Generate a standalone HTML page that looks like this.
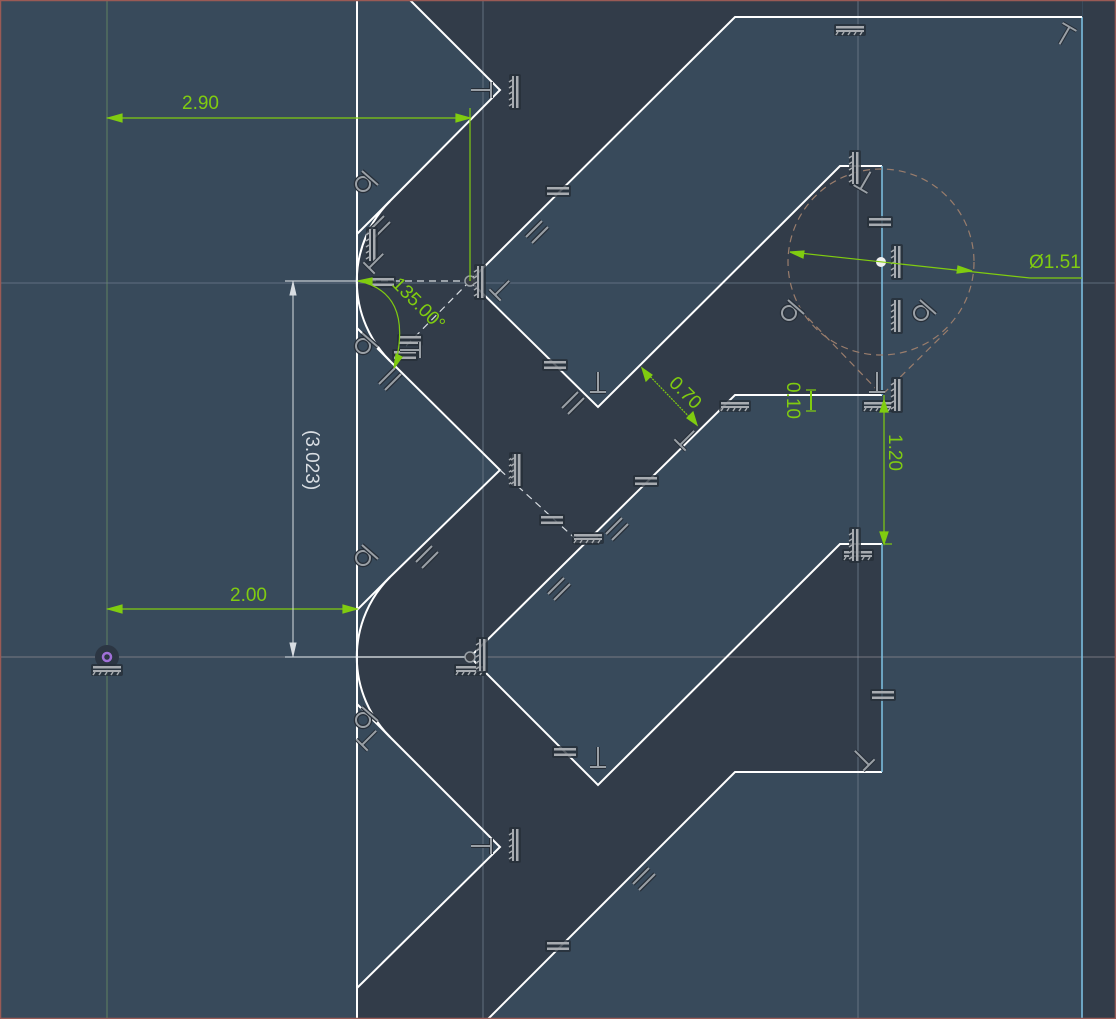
<!DOCTYPE html>
<html><head><meta charset="utf-8"><style>
html,body{margin:0;padding:0;background:#384a5b;}
svg{display:block}
text{font-family:"Liberation Sans",sans-serif}
.g{fill:#80cc10;font-size:19px}
.ic{fill:#8f959c;font-size:26px;stroke:#26303a;stroke-width:0.6}
</style></head><body>
<svg width="1116" height="1019" viewBox="0 0 1116 1019" xmlns="http://www.w3.org/2000/svg">
<defs>
<g id="eq"><rect x="-13" y="-6" width="26" height="12" rx="2" fill="#262e38" opacity="0.8"/><rect x="-11" y="-4" width="22" height="2.5" fill="#a7abb0"/><rect x="-11" y="1.5" width="22" height="2.5" fill="#a7abb0"/></g>
<g id="gv"><rect x="-6" y="-18" width="12" height="36" rx="2" fill="#262e38" opacity="0.8"/><rect x="1" y="-16" width="2.5" height="32" fill="#a7abb0"/><rect x="-3" y="-16" width="2" height="32" fill="#a7abb0"/><path d="M-3,-12 l-3,2 M-3,-6 l-3,2 M-3,0 l-3,2 M-3,6 l-3,2 M-3,12 l-3,2" stroke="#a7abb0" stroke-width="1.5"/></g>
<g id="gh"><rect x="-16" y="-6" width="32" height="12" rx="2" fill="#262e38" opacity="0.8"/><rect x="-14" y="-4" width="28" height="2.5" fill="#a7abb0"/><rect x="-14" y="0" width="28" height="2" fill="#a7abb0"/><path d="M-12,2 l-2,3 M-6,2 l-2,3 M0,2 l-2,3 M6,2 l-2,3 M12,2 l-2,3" stroke="#a7abb0" stroke-width="1.5"/></g>
<g id="pl"><path d="M-12,4 L4,-12 M-6,10 L10,-6" stroke="#262e38" stroke-width="4.5"/><path d="M-12,4 L4,-12 M-6,10 L10,-6" stroke="#9aa0a6" stroke-width="2"/></g>
<g id="pp"><path d="M0,-13 V7 M-8,7 H8" stroke="#262e38" stroke-width="4"/><path d="M0,-13 V7 M-8,7 H8" stroke="#9aa0a6" stroke-width="2"/></g>
<g id="tg"><circle cx="-3" cy="3" r="7" fill="none" stroke="#262e38" stroke-width="4.5"/><circle cx="-3" cy="3" r="7" fill="none" stroke="#9aa0a6" stroke-width="2"/><path d="M-4,-10 L12,4" stroke="#262e38" stroke-width="4.5"/><path d="M-4,-10 L12,4" stroke="#9aa0a6" stroke-width="2"/></g>
</defs>
<rect x="0" y="0" width="1116" height="1019" fill="#384a5b"/>
<path d="M410,0 L1082,0 L1082,17 L735,17 L470,281 L598,407 L840,166 L882,166 L882,395 L735,395 L470,657 L598,785 L840,544 L882,544 L882,772 L735,772 L488,1019 L357,1019 L357,988 L500,847 L390,737 A113,113 0 0 1 390,577 L500,470 L390,361 A113,113 0 0 1 390,201 L500,90 Z" fill="#323c49"/>
<rect x="1083" y="0" width="33" height="1019" fill="#323c49"/>
<line x1="107" y1="0" x2="107" y2="1019" stroke="#8fbf6a" stroke-width="0.8" opacity="0.6"/>
<line x1="483" y1="0" x2="483" y2="1019" stroke="#6f7d8c" stroke-width="0.8"/>
<line x1="858" y1="0" x2="858" y2="1019" stroke="#6f7d8c" stroke-width="0.8"/>
<line x1="0" y1="283" x2="1116" y2="283" stroke="#6f7d8c" stroke-width="0.8"/>
<line x1="0" y1="657" x2="1116" y2="657" stroke="#8f8a90" stroke-width="0.8"/>
<line x1="1082" y1="17" x2="1082" y2="1019" stroke="#7fc3e6" stroke-width="1.5"/>
<g fill="none" stroke="#ffffff" stroke-width="2">
<line x1="357" y1="0" x2="357" y2="1019"/>
<path d="M410,0 L500,90 L390,201 A113,113 0 0 0 390,361 L500,470 L390,577 A113,113 0 0 0 390,737 L500,847 L357,988"/>
<path d="M390,201 L357,234 M390,361 L357,328 M390,577 L357,610 M390,737 L357,704"/>
<path d="M1082,17 L735,17 L470,281 L598,407 L840,166 L882,166"/>
<path d="M882,395 L735,395 L470,657 L598,785 L840,544 L882,544"/>
<path d="M882,772 L735,772 L488,1019"/>
</g>
<g stroke="#7fc3e6" stroke-width="1.5">
<line x1="882" y1="166" x2="882" y2="395"/>
<line x1="882" y1="544" x2="882" y2="772"/>
</g>
<g fill="none" stroke="#d8dde2" stroke-width="1.2" stroke-dasharray="7,5">
<line x1="357" y1="281" x2="470" y2="281"/>
<line x1="470" y1="281" x2="400" y2="352"/>
<line x1="500" y1="470" x2="580" y2="543"/>
</g>
<line x1="357" y1="657" x2="470" y2="657" stroke="#e8ecef" stroke-width="1.2"/>
<line x1="285" y1="281" x2="357" y2="281" stroke="#e8ecef" stroke-width="1"/>
<line x1="285" y1="657" x2="357" y2="657" stroke="#e8ecef" stroke-width="1"/>
<g fill="none" stroke="#9a7d6c" stroke-width="1.2" stroke-dasharray="7,5">
<circle cx="881" cy="262" r="93"/>
<line x1="808" y1="318" x2="882" y2="395"/>
<line x1="948" y1="330" x2="882" y2="395"/>
</g>
<circle cx="881" cy="262" r="5" fill="#f0f0f0"/>
<circle cx="470" cy="281" r="5" fill="#3a3f46" stroke="#9aa0a6" stroke-width="1.5"/>
<circle cx="470" cy="657" r="5" fill="#3a3f46" stroke="#9aa0a6" stroke-width="1.5"/>
<circle cx="107" cy="657" r="12" fill="#2c3643"/>
<circle cx="107" cy="657" r="4" fill="none" stroke="#a070d8" stroke-width="2.5"/>
<!-- icons -->
<use href="#gh" x="850" y="30"/>
<use href="#eq" x="558" y="191"/>
<use href="#eq" x="555" y="365"/>
<use href="#eq" x="646" y="481"/>
<use href="#eq" x="552" y="520"/>
<use href="#eq" x="587" y="539"/>
<use href="#eq" x="565" y="752"/>
<use href="#eq" x="880" y="222"/>
<use href="#eq" x="883" y="695"/>
<use href="#eq" x="558" y="946"/>
<use href="#eq" x="410" y="340"/>
<use href="#eq" x="405" y="355"/>
<use href="#eq" x="383" y="282"/>
<use href="#gh" x="735" y="406"/>
<use href="#gh" x="878" y="406"/>
<use href="#gh" x="107" y="670"/>
<use href="#gh" x="470" y="670"/>
<use href="#gh" x="588" y="538"/>
<use href="#gh" x="858" y="555"/>
<use href="#pl" x="538" y="233"/>
<use href="#pl" x="391" y="380"/>
<use href="#pl" x="574" y="404"/>
<use href="#pl" x="618" y="530"/>
<use href="#pl" x="428" y="558"/>
<use href="#pl" x="560" y="590"/>
<use href="#pl" x="645" y="880"/>
<use href="#pl" x="380" y="228"/>
<use href="#gv" x="515" y="92"/>
<use href="#gv" x="515" y="470"/>
<use href="#gv" x="515" y="845"/>
<use href="#gv" x="855" y="168"/>
<use href="#gv" x="897" y="262"/>
<use href="#gv" x="897" y="316"/>
<use href="#gv" x="897" y="395"/>
<use href="#gv" x="855" y="545"/>
<use href="#gv" x="480" y="282"/>
<use href="#gv" x="482" y="655"/>
<use href="#gv" x="372" y="245"/>
<use href="#gv" x="517" y="470"/>
<use href="#pp" x="598" y="385"/>
<use href="#pp" x="598" y="760"/>
<use href="#pp" x="877" y="385"/>
<use href="#pp" transform="translate(484,90) rotate(-90)"/>
<use href="#pp" transform="translate(484,846) rotate(-90)"/>
<use href="#pp" transform="translate(500,290) rotate(45)"/>
<use href="#pp" transform="translate(413,350) rotate(-90)"/>
<use href="#pp" transform="translate(374,263) rotate(45)"/>
<use href="#pp" transform="translate(367,740) rotate(45)"/>
<use href="#pp" transform="translate(864,183) rotate(30)"/>
<use href="#pp" transform="translate(864,760) rotate(-45)"/>
<use href="#pp" transform="translate(1066,33) rotate(-150)"/>
<use href="#pp" transform="translate(685,440) rotate(45)"/>
<use href="#tg" x="366" y="181"/>
<use href="#tg" x="366" y="343"/>
<use href="#tg" x="366" y="555"/>
<use href="#tg" x="366" y="717"/>
<use href="#tg" x="792" y="310"/>
<use href="#tg" x="924" y="310"/>
<!-- dimensions -->
<g stroke="#80cc10" stroke-width="1.2" fill="#80cc10">
<line x1="107" y1="118" x2="470" y2="118"/>
<line x1="470" y1="108" x2="470" y2="281"/>
<path d="M108,118 l14,-4 v8z M470,118 l-14,-4 v8z"/>
<line x1="107" y1="609" x2="357" y2="609"/>
<path d="M108,609 l14,-4 v8z M357,609 l-14,-4 v8z"/>
<path d="M358,281 Q412,292 396,362" fill="none"/>
<path d="M358,281 l14,-3 v6z M394,368 l2,-14 l6,3z"/>
<line x1="642" y1="368" x2="697" y2="425" stroke-dasharray="2,1"/>
<path d="M642,368 l4,13 l6,-6z M697,425 l-4,-13 l-6,6z"/>
<line x1="811" y1="391" x2="811" y2="410" stroke-width="2"/>
<path d="M806,390 h10 M806,411 h10"/>
<line x1="884" y1="395" x2="884" y2="544"/>
<path d="M884,400 l-4,12 h8z M884,544 l-4,-12 h8z"/>
<line x1="884" y1="544" x2="892" y2="544"/>
<line x1="790" y1="252" x2="1030" y2="278"/>
<line x1="1030" y1="278" x2="1082" y2="278"/>
<path d="M790,252 l14,-1 l-1,7z M972,271 l-14,-5 l-1,7z"/>
</g>
<g stroke="#d8dde2" stroke-width="1" fill="#d8dde2">
<line x1="293" y1="281" x2="293" y2="657"/>
<path d="M293,282 l-3,13 h6z M293,656 l-3,-13 h6z"/>
</g>
<text class="g" x="182" y="109">2.90</text>
<text class="g" x="230" y="601">2.00</text>
<text class="g" x="1029" y="268">Ø1.51</text>
<text class="g" transform="translate(391,285) rotate(45)">135.00°</text>
<text class="g" transform="translate(668,384) rotate(45)">0.70</text>
<text class="g" transform="translate(787,382) rotate(90)">0.10</text>
<text class="g" transform="translate(889,434) rotate(90)">1.20</text>
<text style="fill:#d8dde2;font-size:19px" transform="translate(306,430) rotate(90)">(3.023)</text>
<rect x="0.5" y="0.5" width="1115" height="1018" fill="none" stroke="#9a5a55" stroke-width="1.5"/>
</svg>
</body></html>
